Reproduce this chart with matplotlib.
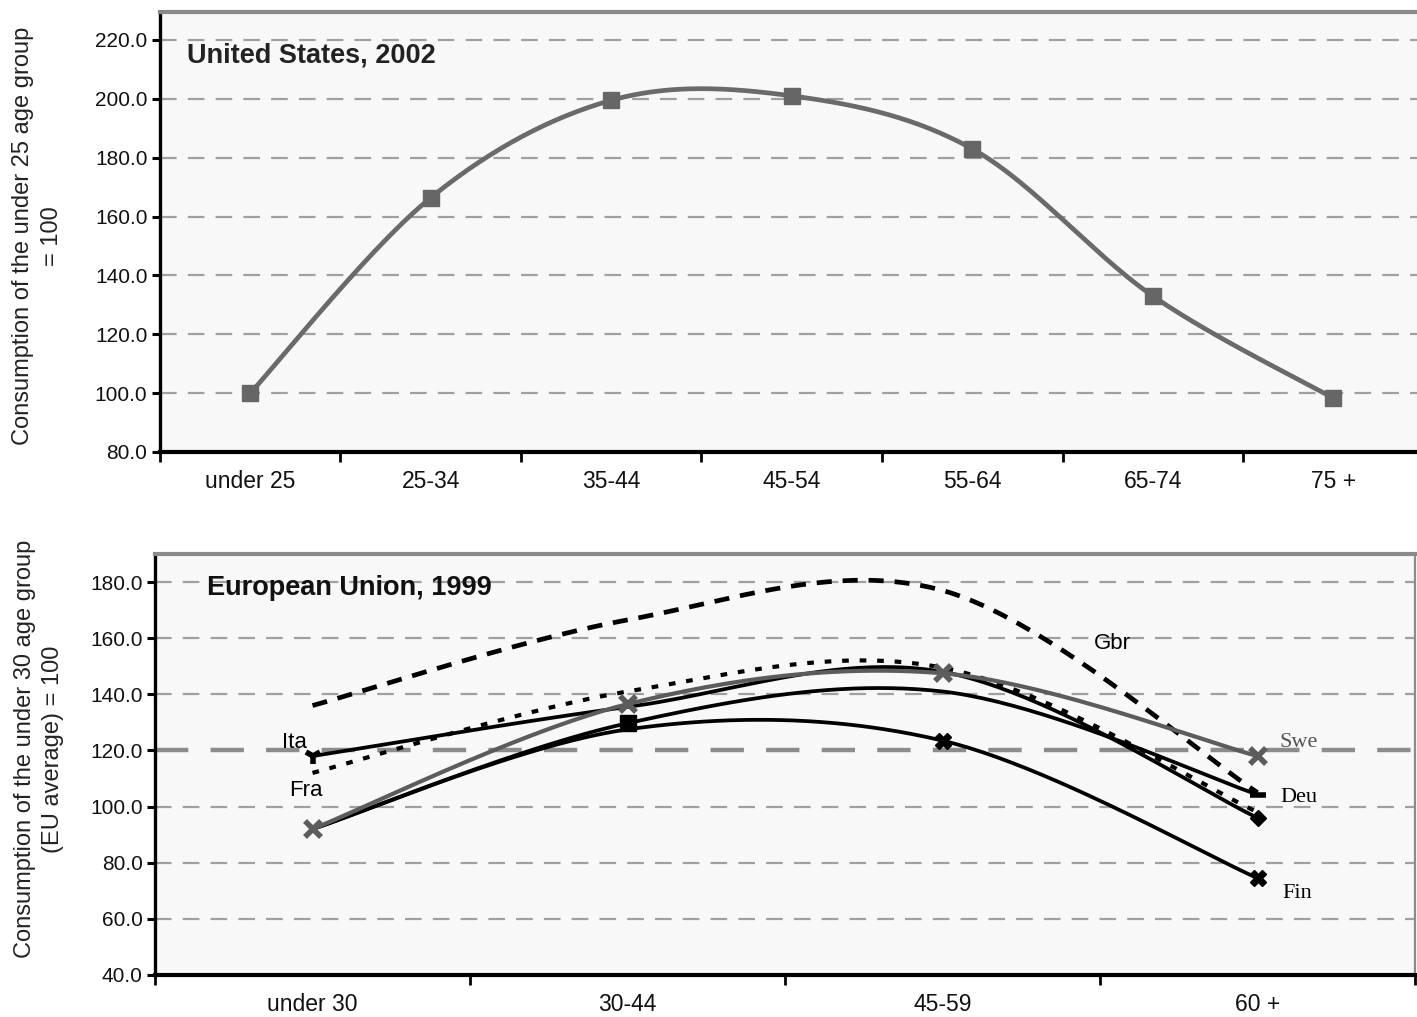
import numpy as np
import matplotlib
matplotlib.use("Agg")
import matplotlib.pyplot as plt

# ---- data -------------------------------------------------------------
us_groups = ["under 25", "25-34", "35-44", "45-54", "55-64", "65-74", "75 +"]
us_values = [100.0, 166.4, 199.5, 201.0, 183.0, 133.0, 98.3]
us_yticks = [80, 100, 120, 140, 160, 180, 200, 220]

eu_groups = ["under 30", "30-44", "45-59", "60 +"]
eu_gbr = [136.0, 166.5, 177.0, 105.0]
eu_fra = [112.0, 141.0, 149.5, 98.0]
eu_ita = [118.0, 135.5, 148.0, 96.0]
eu_deu = [92.0, 129.7, 141.0, 104.3]
eu_fin = [92.0, 127.5, 123.5, 74.5]
eu_swe = [92.0, 136.5, 147.5, 118.0]
eu_yticks = [40, 60, 80, 100, 120, 140, 160, 180]

SANS = ["Liberation Sans", "DejaVu Sans"]
SERIF = ["Liberation Serif", "DejaVu Serif"]
plt.rcParams["font.family"] = SANS


def smooth(xs, ys, n=50):
    """Bezier smoothing through every point (control points at 1/6 of
    the neighbour chord), as used by spreadsheet 'smoothed line' charts."""
    p = np.column_stack([xs, ys]).astype(float)
    ext = np.vstack([p[0], p, p[-1]])
    t = np.linspace(0, 1, n)[:, None]
    parts = []
    for i in range(len(p) - 1):
        p0, p1, p2, p3 = ext[i], ext[i + 1], ext[i + 2], ext[i + 3]
        c1 = p1 + (p2 - p0) / 6.0
        c2 = p2 - (p3 - p1) / 6.0
        seg = ((1 - t) ** 3) * p1 + 3 * t * (1 - t) ** 2 * c1 \
            + 3 * t ** 2 * (1 - t) * c2 + t ** 3 * p2
        parts.append(seg if i == 0 else seg[1:])
    s = np.vstack(parts)
    return s[:, 0], s[:, 1]


def style_axes(ax, groups, yticks, ylim, heavy=None, right_spine=False):
    ax.set_facecolor("#f8f8f8")
    n = len(groups)
    ax.set_xlim(-0.5, n - 0.5)
    ax.set_ylim(*ylim)
    ax.set_xticks(range(n))
    ax.set_xticklabels(groups, fontsize=16.5, color="#111111")
    ax.set_xticks(np.arange(-0.5, n, 1.0), minor=True)
    ax.tick_params(axis="x", which="major", length=0, pad=13)
    ax.tick_params(axis="x", which="minor", length=7, width=2,
                   direction="out", color="black")
    ax.set_yticks(yticks)
    ax.set_yticklabels([f"{v:.1f}" for v in yticks], fontsize=15,
                       color="#111111")
    ax.tick_params(axis="y", length=6, width=2.2, direction="out", pad=3)
    for v in yticks[1:]:
        lw = 3.2 if v == heavy else 1.6
        col = "#8c8c8c" if v == heavy else "#a0a0a0"
        ax.axhline(v, color=col, lw=lw, dashes=(7.5, 5.0), zorder=1)
    ax.spines["left"].set_linewidth(2.4)
    ax.spines["left"].set_color("black")
    ax.spines["bottom"].set_linewidth(3.0)
    ax.spines["bottom"].set_color("black")
    ax.spines["top"].set_linewidth(3.0)
    ax.spines["top"].set_color("#8a8a8a")
    ax.spines["right"].set_visible(right_spine)
    ax.spines["right"].set_linewidth(1.6)
    ax.spines["right"].set_color("#8a8a8a")


fig = plt.figure(figsize=(14.17, 10.17), dpi=100)

# ---- United States ----------------------------------------------------
ax1 = fig.add_axes([0.1129, 0.5556, 0.8917, 0.4326])
style_axes(ax1, us_groups, us_yticks, (80, 229.5))
xs = np.arange(len(us_values))
sx, sy = smooth(xs, us_values)
ax1.plot(sx, sy, color="#6a6a6a", lw=3.4, zorder=3, solid_capstyle="round")
ax1.plot(xs, us_values, ls="none", marker="s", ms=12, color="#666666",
         zorder=4)
ax1.text(0.021, 0.902, "United States, 2002", transform=ax1.transAxes,
         fontsize=19.5, fontweight="bold", color="#222222", va="center",
         ha="left")
fig.text(0.0265, 0.768, "Consumption of the under 25 age group\n= 100",
         rotation=90, ha="center", va="center", fontsize=17,
         multialignment="center", linespacing=1.4, color="#222222")

# ---- European Union ---------------------------------------------------
ax2 = fig.add_axes([0.1094, 0.0413, 0.8892, 0.414])
style_axes(ax2, eu_groups, eu_yticks, (40, 190), heavy=120, right_spine=True)
ex = np.arange(len(eu_groups))

series = [
    # values, colour, line width, dash pattern, per-point markers
    (eu_gbr, "black", 3.4, (3.2, 2.3), [None, None, None, None]),
    (eu_fra, "black", 3.0, (1.6, 2.6), [None, None, None, None]),
    (eu_ita, "black", 2.7, None, ["1", None, None, "D"]),
    (eu_deu, "black", 2.7, None, [None, "s", None, "_"]),
    (eu_fin, "black", 2.7, None, [None, None, "X", "X"]),
    (eu_swe, "#5c5c5c", 3.0, None, ["x", "x", "x", "x"]),
]
for vals, col, lw, dash, marks in series:
    sx, sy = smooth(ex, vals)
    kw = dict(color=col, lw=lw, zorder=3)
    if dash is not None:
        kw["dashes"] = dash
    ax2.plot(sx, sy, **kw)
    for xi, yi, m in zip(ex, vals, marks):
        if m is None:
            continue
        if m in ("x", "1", "_"):
            ax2.plot(xi, yi, marker=m, ms=12, mew=4, color=col, zorder=4)
        else:
            size = 8 if m == "D" else 11
            ax2.plot(xi, yi, marker=m, ms=size, color=col, mec=col, zorder=4)

ax2.text(0.041, 0.92, "European Union, 1999", transform=ax2.transAxes,
         fontsize=19.5, fontweight="bold", color="#111111", va="center",
         ha="left")
ax2.text(-0.056, 122.9, "Ita", fontsize=16, ha="center", va="center")
ax2.text(-0.02, 105.8, "Fra", fontsize=16, ha="center", va="center")
ax2.text(2.54, 158.1, "Gbr", fontsize=16, ha="center", va="center")
ax2.text(3.071, 122.9, "Swe", fontsize=16, ha="left", va="center",
         family=SERIF, color="#555555")
ax2.text(3.071, 103.3, "Deu", fontsize=16, ha="left", va="center",
         family=SERIF)
ax2.text(3.078, 69.2, "Fin", fontsize=16, ha="left", va="center",
         family=SERIF)
fig.text(0.0275, 0.2635,
         "Consumption of the under 30 age group\n(EU average) = 100",
         rotation=90, ha="center", va="center", fontsize=17,
         multialignment="center", linespacing=1.4, color="#222222")

fig.savefig("out.png", dpi=100, facecolor="white")
